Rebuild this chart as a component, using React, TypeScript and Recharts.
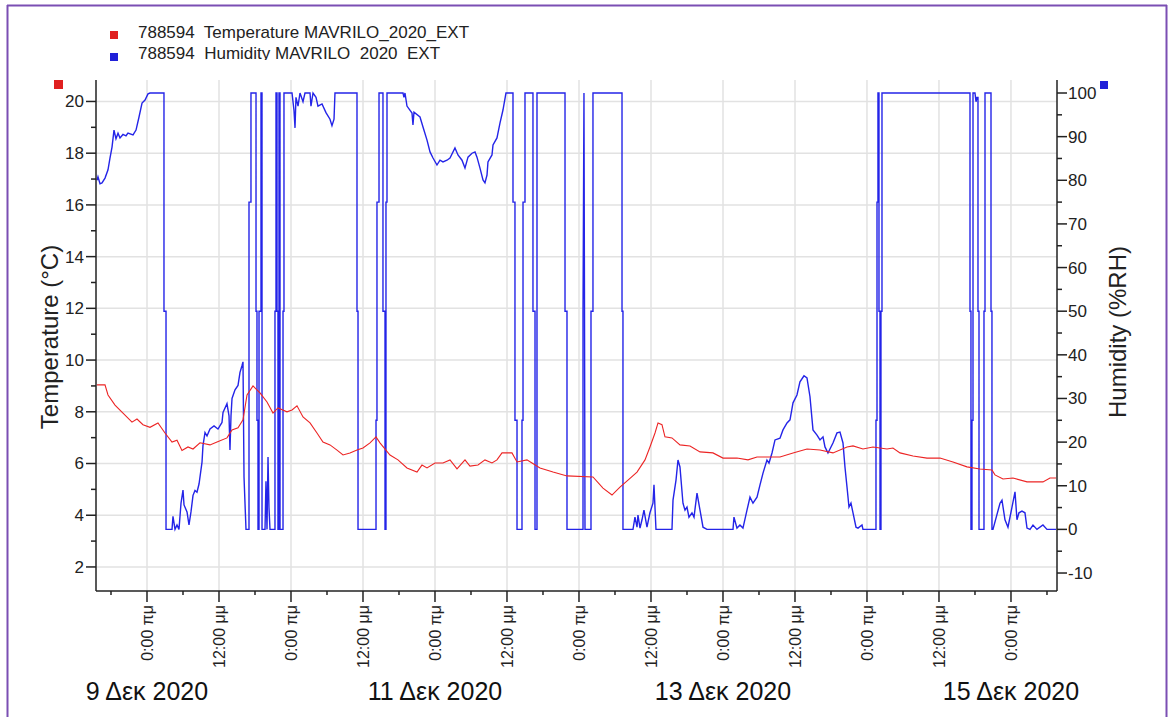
import { LineChart, Line, XAxis, YAxis, ReferenceLine } from 'recharts'

const FONT = '"Liberation Sans", Arial, sans-serif'

// hours counted from 9 Dec 2020 0:00
const tempHours = [
  -8.33, -7.0, -6.5, -5.33, -4.0, -2.5, -1.67, -0.67, 0.5, 1.83, 3.0, 4.17, 5.0, 5.83, 6.83, 7.67, 8.83,
  10.5, 11.67, 13.33, 14.17, 15.17, 16.0, 16.67, 17.67, 18.83, 20.0, 21.0, 21.83, 23.33, 24.17, 25.0,
  26.0, 27.17, 28.33, 29.33, 30.5, 31.67, 32.67, 33.83, 35.0, 36.0, 37.17, 38.17, 38.83, 40.5, 41.83,
  43.33, 45.0, 45.83, 46.67, 48.0, 49.33, 50.5, 51.67, 53.0, 53.83, 55.17, 56.33, 57.5, 58.33, 59.17,
  60.83, 61.67, 63.33, 64.17, 65.5, 67.67, 70.0, 74.33, 76.0, 77.5, 78.83, 80.17, 81.67, 83.0, 83.83,
  84.67, 85.17, 85.83, 86.33, 87.5, 88.83, 90.5, 92.17, 94.33, 96.0, 98.33, 100.17, 101.67, 103.83,
  105.5, 107.67, 110.0, 112.17, 114.33, 116.67, 117.67, 119.33, 121.0, 123.33, 124.33, 125.5, 127.67,
  130.0, 132.17, 134.33, 136.67, 138.83, 140.83, 141.33, 142.67, 144.33, 146.67, 149.33, 150.5, 151.5,
]
const tempValues = [
  9.04, 9.04, 8.65, 8.26, 7.95, 7.6, 7.72, 7.5, 7.4, 7.57, 7.18, 6.83, 6.9, 6.5, 6.64, 6.56, 6.8,
  6.72, 6.83, 6.99, 7.3, 7.38, 7.69, 8.65, 9.0, 8.73, 8.38, 7.95, 8.15, 8.0, 8.07, 8.23,
  7.8, 7.57, 7.18, 6.83, 6.72, 6.52, 6.33, 6.41, 6.52, 6.6, 6.8, 7.03, 6.8, 6.33, 6.14,
  5.83, 5.67, 5.94, 5.83, 6.02, 6.02, 6.14, 5.79, 6.14, 5.9, 5.94, 6.14, 6.02, 6.14, 6.41,
  6.41, 6.06, 6.14, 6.02, 5.83, 5.67, 5.52, 5.48, 5.05, 4.78, 5.09, 5.36, 5.67, 6.14, 6.64,
  7.18, 7.57, 7.5, 7.03, 6.99, 6.72, 6.68, 6.45, 6.41, 6.21, 6.21, 6.14, 6.25, 6.25,
  6.25, 6.41, 6.56, 6.52, 6.41, 6.64, 6.68, 6.56, 6.64, 6.56, 6.6, 6.41, 6.29,
  6.21, 6.21, 6.06, 5.87, 5.79, 5.75, 5.56, 5.4, 5.44, 5.29, 5.29, 5.44, 5.44,
]

// one line of hours matches one line of values
const humHours = [
  -8.33, -8.17, -7.83, -7.5, -7.0, -6.5, -6.17, -5.83, -5.5, -5.17, -4.83, -4.5, -4.0, -3.5, -3.17, -2.33, -1.83, -1.33, -0.83, -0.33, 0.17, 0.5,
  2.83, 2.83, 3.17, 3.17, 4.17, 4.33, 4.67, 5.0, 5.33, 5.67, 6.0, 6.17, 6.67, 7.0, 7.33, 7.67, 8.0, 8.33, 8.67,
  9.17, 9.33, 9.67, 10.0, 10.5, 11.17, 11.83, 12.5, 12.67, 13.33, 13.67, 13.83, 14.0, 14.17, 14.67, 15.17, 15.5, 15.83, 16.0, 16.17, 16.5,
  17.0, 17.0, 17.33, 17.33, 18.17, 18.17, 18.33, 18.33, 18.5, 18.5, 18.67, 18.67, 19.0, 19.0, 19.17, 19.17,
  19.67, 19.83, 20.0, 20.17, 20.33, 20.5, 21.33, 21.33, 21.5, 21.5, 21.67, 21.67, 21.83, 21.83, 22.0, 22.0, 22.17, 22.17, 22.67, 22.67, 22.83, 22.83,
  24.17, 24.5, 24.67, 24.83, 25.17, 25.5, 26.0, 26.33, 27.17, 27.33, 27.67, 28.17, 28.5, 29.17, 29.83, 30.5, 30.83, 31.17, 31.33,
  35.0, 35.0, 35.17, 35.17, 38.17, 38.17, 38.33, 38.33, 38.67, 38.67, 39.33, 39.33, 39.67, 39.67, 39.83, 39.83, 40.0, 40.0,
  42.67, 42.83, 43.0, 43.33, 44.17, 44.33, 44.5, 45.5, 46.0, 46.67, 47.17, 47.67, 48.33, 48.83, 49.33, 50.0, 50.5,
  51.33, 51.83, 52.5, 53.0, 53.5, 54.17, 54.67, 55.0, 55.5, 56.0, 56.33, 56.67, 56.83, 57.5, 57.67, 58.33, 58.83, 59.33, 59.83,
  61.0, 61.0, 61.33, 61.33, 61.67, 61.67, 62.5, 62.5, 62.67, 62.67, 63.0, 63.0, 64.33, 64.33, 64.67, 64.67, 65.0, 65.0,
  69.67, 69.67, 70.0, 70.0, 72.67, 72.67, 72.83, 72.92, 73.0, 73.17, 74.0, 74.0, 74.33, 74.33, 79.17, 79.17, 79.33, 79.33,
  81.0, 81.33, 81.67, 81.83, 82.17, 82.5, 82.83, 83.33, 83.83, 84.33, 84.5, 84.83,
  87.5, 87.67, 88.17, 88.5, 88.83, 89.33, 89.67, 90.0, 90.33, 90.83, 91.17, 91.67, 92.17, 92.67, 93.33,
  97.67, 97.83, 98.33, 98.83, 99.33, 100.0, 100.5, 101.0, 101.67, 102.17, 102.67, 103.33, 103.67, 104.17, 104.67, 105.5, 106.0, 106.67, 107.17,
  107.67, 108.33, 108.83, 109.5, 110.0, 110.5, 111.0, 111.67, 112.17, 112.67, 113.0, 113.5, 114.33, 115.0, 115.5, 116.0, 116.33, 116.67, 117.0, 117.33, 117.67, 118.17, 118.5, 119.17, 119.33,
  121.5, 121.5, 121.67, 121.67, 121.83, 121.83, 122.0, 122.0, 122.17, 122.17, 122.33, 122.33, 122.5, 122.5,
  137.17, 137.17, 137.33, 137.33, 137.5, 137.5, 137.67, 137.67, 138.0, 138.17, 138.33, 138.5, 138.5, 138.67, 138.67,
  139.5, 139.5, 139.67, 139.67, 140.67, 140.67, 140.83, 140.83,
  141.0, 142.17, 142.5, 143.0, 143.5, 144.17, 144.67, 145.0, 145.33, 145.83, 146.33, 146.67, 147.17, 147.67, 148.33, 149.33, 150.0, 151.5,
]
const humValues = [
  80.0, 80.8, 79.2, 79.4, 80.5, 82.4, 85.1, 87.6, 91.5, 89.5, 90.8, 89.7, 90.5, 90.2, 90.8, 90.4, 91.5, 94.5, 97.7, 98.4, 99.8, 100,
  100, 50, 50, 0, 0, 3, 0, 1, 0, 6, 9, 5.6, 4, 1, 4, 7.8, 8.9, 8.5, 10.4,
  15.4, 19.2, 22.2, 21.4, 23, 23.7, 23, 24.5, 26.8, 28.8, 26, 18.2, 26, 30, 32, 33, 36, 37.5, 38.4, 12, 0,
  0, 75, 75, 100, 100, 50, 50, 25, 25, 0, 0, 50, 50, 100, 100, 0,
  0, 11, 0, 16.6, 5, 0, 0, 50, 50, 100, 100, 50, 50, 0, 0, 100, 100, 0, 0, 50, 50, 100,
  100, 96, 92, 99, 97, 100, 98, 100, 100, 97, 100, 99, 97, 97.5, 95.5, 94, 92.5, 94, 100,
  100, 50, 50, 0, 0, 25, 25, 75, 75, 100, 100, 50, 50, 0, 0, 75, 75, 100,
  100, 99, 100, 97, 95.4, 92.7, 95.6, 94.5, 92.2, 89.2, 86.5, 85.1, 83.5, 84.6, 84.2, 84.6, 85.1,
  87.4, 85.8, 84.6, 82.8, 85.3, 86.2, 86.5, 85.3, 82.8, 80.1, 79.4, 81.2, 84.2, 85.8, 88.1, 89.7, 93.1, 96.1, 100,
  100, 75, 75, 25, 25, 0, 0, 25, 25, 75, 75, 100, 100, 50, 50, 0, 0, 100,
  100, 50, 50, 0, 0, 50, 100, 50, 0, 0, 0, 50, 50, 100, 100, 50, 50, 0,
  0, 2.8, 0.5, 3.3, 0.3, 2.2, 4.4, 0.5, 3.8, 6.0, 10.2, 0,
  0, 6.7, 11.3, 15.9, 14.3, 6, 4.4, 5.1, 2.8, 3.8, 2.8, 8.3, 4.4, 0.5, 0,
  0, 2.8, 0.3, 1.0, 0.3, 4.4, 7.4, 6, 7.4, 10.2, 12.9, 15.9, 15.2, 17.5, 20.5, 20.9, 22.8, 24.4, 25.1,
  29, 30.8, 33.8, 35.2, 34.7, 30.4, 22.8, 21.6, 20.5, 21.2, 18.9, 17.5, 19.8, 22.1, 22.3, 19.8, 14.3, 9.7, 5.1, 6, 3.8, 0.5, 0.3, 1.0, 0,
  0, 25, 25, 75, 75, 100, 100, 50, 50, 0, 0, 50, 50, 100,
  100, 50, 50, 0, 0, 25, 25, 100, 100, 98, 99, 99, 50, 50, 0,
  0, 50, 50, 100, 100, 50, 50, 0,
  0, 6, 6.7, 2.2, 0.5, 5.1, 8.6, 2.2, 3.8, 4.2, 3.8, 0.3, 0, 1.0, 0, 1.0, 0, 0,
]

const majorTimeTicks = [0, 12, 24, 36, 48, 60, 72, 84, 96, 108, 120, 132, 144]
const majorTimeLabels = [
  '0:00 πμ', '12:00 μμ', '0:00 πμ', '12:00 μμ', '0:00 πμ', '12:00 μμ', '0:00 πμ',
  '12:00 μμ', '0:00 πμ', '12:00 μμ', '0:00 πμ', '12:00 μμ', '0:00 πμ',
]
const minorTimeTicks = [-6, 6, 18, 30, 42, 54, 66, 78, 90, 102, 114, 126, 138, 150]
const dateTicks = [0, 48, 96, 144]
const dateLabels = ['9 Δεκ 2020', '11 Δεκ 2020', '13 Δεκ 2020', '15 Δεκ 2020']

const tempTicks = [2, 4, 6, 8, 10, 12, 14, 16, 18, 20]
const tempMinorTicks = [3, 5, 7, 9, 11, 13, 15, 17, 19]
const humTicks = [-10, 0, 10, 20, 30, 40, 50, 60, 70, 80, 90, 100]
const humMinorTicks = [-5, 5, 15, 25, 35, 45, 55, 65, 75, 85, 95]

const temperature = tempHours.map((h, i) => ({ h, v: tempValues[i] }))
const humidity = humHours.map((h, i) => ({ h, v: humValues[i] }))

const allTimeTicks = [...minorTimeTicks, ...majorTimeTicks].sort((a, b) => a - b)

const AXIS = '#222'
const GRID = '#e2e2e2'

function XTick(props: any) {
  const { x, y, payload } = props
  const v = payload.value
  const i = majorTimeTicks.indexOf(v)
  if (i < 0) return <line x1={x} x2={x} y1={y} y2={y + 4} stroke={AXIS} strokeWidth={1.5} />
  const d = dateTicks.indexOf(v)
  return (
    <g>
      <line x1={x} x2={x} y1={y} y2={y + 11} stroke={AXIS} strokeWidth={1.5} />
      <text transform={`translate(${x},${y + 14}) rotate(-90)`} textAnchor="end" dy="0.35em"
        fontSize={16} fontFamily={FONT} fill="#222">{majorTimeLabels[i]}</text>
      {d >= 0 && (
        <text x={x} y={y + 109} textAnchor="middle" fontSize={25} fontFamily={FONT} fill="#111">
          {dateLabels[d]}
        </text>
      )}
    </g>
  )
}

function LeftTick(props: any) {
  const { x, y, payload } = props
  const major = tempTicks.includes(payload.value)
  return (
    <g>
      <line x1={x - (major ? 10 : 5)} x2={x} y1={y} y2={y} stroke={AXIS} strokeWidth={1.5} />
      {major && (
        <text x={x - 12} y={y} dy="0.35em" textAnchor="end" fontSize={17} fontFamily={FONT} fill="#222">
          {payload.value}
        </text>
      )}
    </g>
  )
}

function RightTick(props: any) {
  const { x, y, payload } = props
  const major = humTicks.includes(payload.value)
  return (
    <g>
      <line x1={x} x2={x + (major ? 10 : 5)} y1={y} y2={y} stroke={AXIS} strokeWidth={1.5} />
      {major && (
        <text x={x + 11} y={y} dy="0.35em" textAnchor="start" fontSize={17} fontFamily={FONT} fill="#222">
          {payload.value}
        </text>
      )}
    </g>
  )
}

export default function App() {
  return (
    <div style={{ position: 'absolute', left: 0, top: 0, width: 1168, height: 717, background: '#fff' }}>
      <LineChart width={1168} height={717} margin={{ top: 80, right: 51, bottom: 26, left: 36 }}>
        <XAxis
          type="number"
          dataKey="h"
          domain={[-8.5, 151.67]}
          ticks={allTimeTicks}
          interval={0}
          allowDataOverflow
          tickSize={0}
          tickMargin={0}
          height={100}
          axisLine={{ stroke: AXIS, strokeWidth: 1.5 }}
          tick={XTick}
        />
        <YAxis
          yAxisId="t"
          orientation="left"
          domain={[1.07, 20.83]}
          ticks={[...tempMinorTicks, ...tempTicks].sort((a, b) => a - b)}
          interval={0}
          allowDataOverflow
          width={60}
          tickSize={0}
          tickMargin={0}
          axisLine={{ stroke: AXIS, strokeWidth: 1.5 }}
          tick={LeftTick}
        />
        <YAxis
          yAxisId="rh"
          orientation="right"
          domain={[-14.12, 102.98]}
          ticks={[...humMinorTicks, ...humTicks].sort((a, b) => a - b)}
          interval={0}
          allowDataOverflow
          width={60}
          tickSize={0}
          tickMargin={0}
          axisLine={{ stroke: AXIS, strokeWidth: 1.5 }}
          tick={RightTick}
        />
        {tempTicks.map(v => (
          <ReferenceLine key={`gy${v}`} yAxisId="t" y={v} stroke={GRID} strokeWidth={1.5} />
        ))}
        {majorTimeTicks.map(v => (
          <ReferenceLine key={`gx${v}`} yAxisId="t" x={v} stroke={GRID} strokeWidth={1.5} />
        ))}
        <Line
          yAxisId="rh"
          data={humidity}
          dataKey="v"
          type="linear"
          stroke="#2424e8"
          strokeWidth={1.4}
          dot={false}
          activeDot={false}
          isAnimationActive={false}
        />
        <Line
          yAxisId="t"
          data={temperature}
          dataKey="v"
          type="linear"
          stroke="#ec2424"
          strokeWidth={1.1}
          dot={false}
          activeDot={false}
          isAnimationActive={false}
        />
      </LineChart>
      <svg width={1168} height={717} style={{ position: 'absolute', left: 0, top: 0, pointerEvents: 'none' }}>
        <defs>
          <clipPath id="legend2">
            <rect x={130} y={40} width={400} height={20} />
          </clipPath>
        </defs>
        <line x1={7.5} x2={7.5} y1={5} y2={717} stroke="#7b4fb3" strokeWidth={2} />
        <line x1={7} x2={1167} y1={5.5} y2={5.5} stroke="#7b4fb3" strokeWidth={2} />
        <line x1={1166.5} x2={1166.5} y1={5} y2={717} stroke="#7b4fb3" strokeWidth={2} />

        <rect x={110} y={31} width={8} height={8} fill="#e02020" />
        <text x={138} y={38} fontSize={17} fontFamily={FONT} fill="#222" style={{ whiteSpace: 'pre' }}>
          788594  Temperature MAVRILO_2020_EXT
        </text>
        <rect x={110} y={53} width={8} height={8} fill="#2020d8" />
        <g clipPath="url(#legend2)">
          <text x={138} y={59} fontSize={17} fontFamily={FONT} fill="#222" style={{ whiteSpace: 'pre' }}>
            788594  Humidity MAVRILO_2020_EXT
          </text>
        </g>

        <rect x={54} y={80} width={9} height={9} fill="#e02020" />
        <rect x={1100} y={81} width={8} height={8} fill="#2020d8" />

        <text transform="translate(50,337) rotate(-90)" textAnchor="middle" dy="0.35em"
          fontSize={24} fontFamily={FONT} fill="#222">Temperature (°C)</text>
        <text transform="translate(1118,332) rotate(-90)" textAnchor="middle" dy="0.35em"
          fontSize={24} fontFamily={FONT} fill="#222">Humidity (%RH)</text>
      </svg>
    </div>
  )
}
